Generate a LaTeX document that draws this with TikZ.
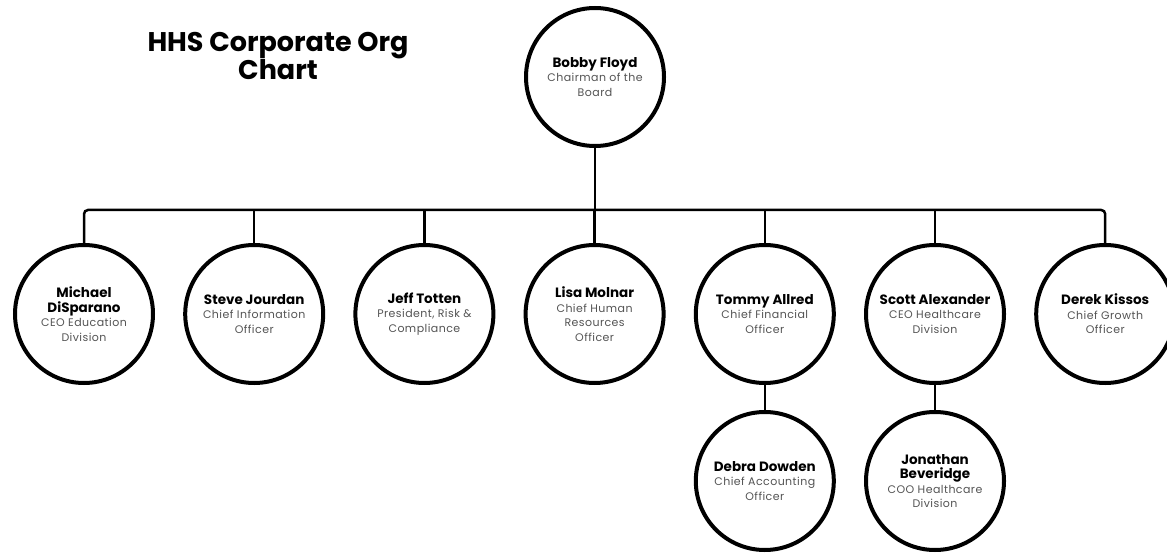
\documentclass[tikz,border=0pt]{standalone}
\usepackage{fontspec}
\setmainfont{Poppins}
\newfontfamily\rolefont{Poppins}[LetterSpace=4.0]
\usetikzlibrary{positioning}
\definecolor{rolegray}{gray}{0.33}
\tikzset{person/.style={circle,draw=black,line width=4pt,fill=white,minimum size=138pt,inner sep=0pt,align=center,font=\fontsize{13.5}{14.5}\selectfont},
link/.style={line width=2.5pt}}
\newcommand{\nm}[1]{\textbf{#1}}
\newcommand{\rl}[1]{{\rolefont\color{rolegray}\fontsize{11}{14.5}\selectfont #1}}

\begin{document}
\begin{tikzpicture}[x=1pt,y=-1pt,node distance=170.2pt]
    \useasboundingbox (0,0) rectangle (1167,553);

    \node [font=\fontsize{27}{27}\selectfont\bfseries, align=center] (title) at (278,56) {HHS Corporate Org\\Chart};

    \node [person] (chair) at (595,77) {\nm{Bobby Floyd}\\\rl{Chairman of the}\\\rl{Board}};

    \node [person] (staff1) at (84,314) {\nm{Michael}\\\nm{DiSparano}\\\rl{CEO Education}\\\rl{Division}};
    \node [person, right of = staff1] (staff2) {\nm{Steve Jourdan}\\\rl{Chief Information}\\\rl{Officer}};
    \node [person, right of = staff2] (staff3) {\nm{Jeff Totten}\\\rl{President, Risk \&}\\\rl{Compliance}};
    \node [person, right of = staff3] (staff4) {\nm{Lisa Molnar}\\\rl{Chief Human}\\\rl{Resources}\\\rl{Officer}};
    \node [person, right of = staff4] (staff5) {\nm{Tommy Allred}\\\rl{Chief Financial}\\\rl{Officer}};
    \node [person, right of = staff5] (staff6) {\nm{Scott Alexander}\\\rl{CEO Healthcare}\\\rl{Division}};
    \node [person, right of = staff6] (staff7) {\nm{Derek Kissos}\\\rl{Chief Growth}\\\rl{Officer}};

    \node [person, below of = staff5, node distance = 167pt] (sub1) {\nm{Debra Dowden}\\\rl{Chief Accounting}\\\rl{Officer}};
    \node [person, below of = staff6, node distance = 167pt] (sub2) {\nm{Jonathan}\\\nm{Beveridge}\\\rl{COO Healthcare}\\\rl{Division}};

    % bus line under the chairman
    \coordinate (bus) at (0,210);
    \draw [link] (chair) -- (chair |- bus);
    \draw [link, rounded corners=4pt] (staff1.north) -- (staff1.north |- bus) -- (staff7.north |- bus) -- (staff7.north);
    \foreach \m in {2,...,6}
        {
        \draw [link] (staff\m.north) -- (staff\m.north |- bus);
        }
    \draw [link] (staff5) -- (sub1);
    \draw [link] (staff6) -- (sub2);
\end{tikzpicture}
\end{document}
